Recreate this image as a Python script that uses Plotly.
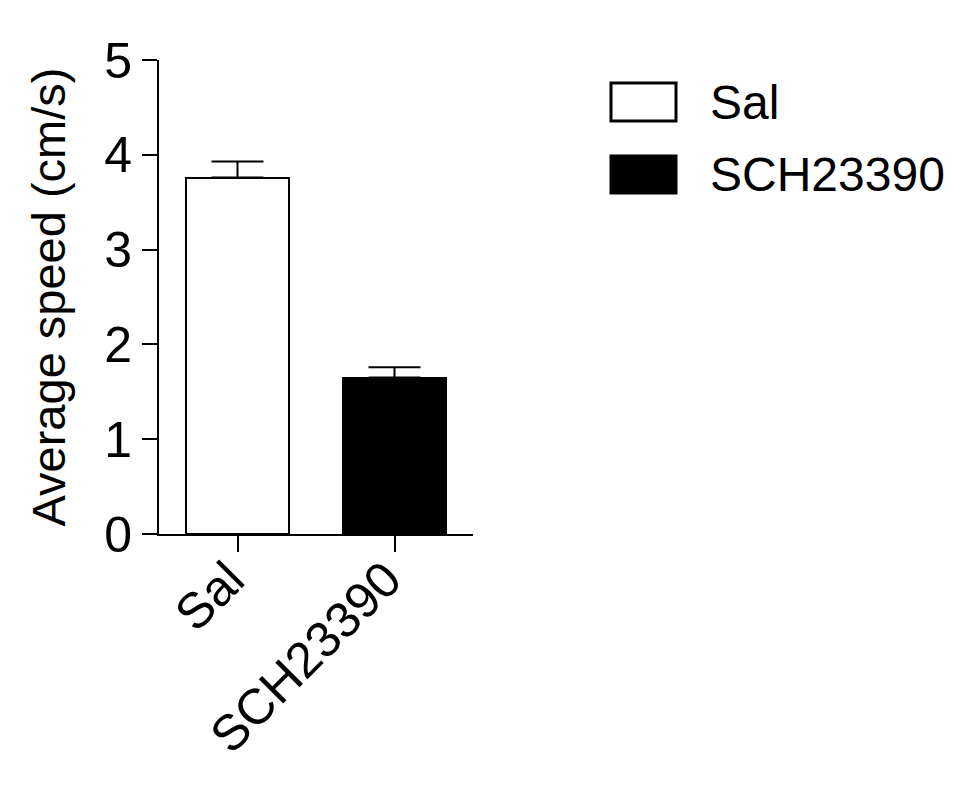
import plotly.graph_objects as go

groups = ["Sal", "SCH23390"]
speed = [3.76, 1.65]
sem = [0.17, 0.11]
fills = ["white", "black"]
y_ticks = [0, 1, 2, 3, 4, 5]

W, H = 975, 796
off = 8  # page body margin
left, right, top, bottom = 159 - off, 473 - off, 60 - off, 534 - off

font = "Liberation Sans, Arial, Helvetica, sans-serif"

fig = go.Figure()
for g, v, e, c in zip(groups, speed, sem, fills):
    fig.add_trace(go.Bar(
        x=[g], y=[v], name=g, width=0.66,
        marker=dict(color=c, line=dict(color="black", width=2)),
        error_y=dict(type="data", array=[e], arrayminus=[0], symmetric=False,
                     color="black", thickness=2, width=26),
        showlegend=False,
    ))

fig.update_layout(
    width=W, height=H,
    margin=dict(l=left, r=W - right, t=top, b=H - bottom),
    paper_bgcolor="white", plot_bgcolor="white",
    font=dict(family=font, color="black", size=48),
    bargap=0,
)
fig.update_xaxes(
    range=[-0.5, 1.5], showline=True, linecolor="black", linewidth=2,
    ticks="outside", ticklen=16, tickwidth=2, tickcolor="black",
    tickangle=-45, tickfont=dict(size=50), showgrid=False,
    ticklabelstandoff=-22, ticklabelshift=-8,
)
fig.update_yaxes(
    range=[0, 5], tickvals=y_ticks, showline=True, linecolor="black", linewidth=2,
    ticks="outside", ticklen=15, tickwidth=2, tickcolor="black",
    tickfont=dict(size=50), showgrid=False, zeroline=False,
    title=dict(text="Average speed (cm/s)", font=dict(size=47), standoff=24),
)

# legend drawn by hand so the boxes match the big swatches
def px_x(p):
    return (p - off - left) / (right - left)

def px_y(p):
    return (bottom - (p - off)) / (bottom - top)

legend_rows = [(83, 121), (156, 193)]
for g, c, (y0, y1) in zip(groups, fills, legend_rows):
    fig.add_shape(type="rect", xref="paper", yref="paper",
                  x0=px_x(611), x1=px_x(676), y0=px_y(y1), y1=px_y(y0),
                  fillcolor=c, line=dict(color="black", width=3))
    fig.add_annotation(xref="paper", yref="paper", x=px_x(708), y=px_y((y0 + y1) / 2),
                       text=g, showarrow=False, xanchor="left", yanchor="middle",
                       font=dict(size=48))

fig.write_html("out.html")
